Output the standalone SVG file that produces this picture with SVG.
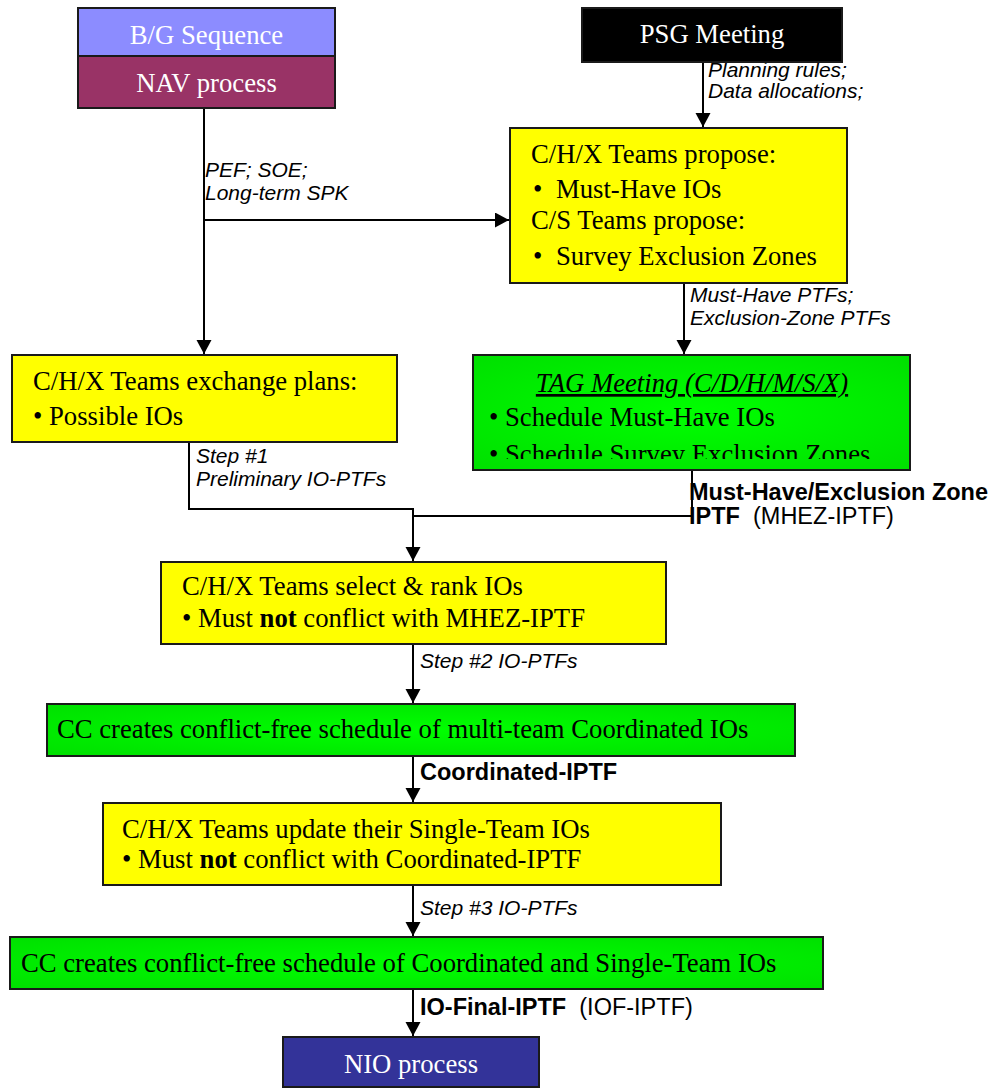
<svg xmlns="http://www.w3.org/2000/svg" width="997" height="1088" viewBox="0 0 997 1088">
<style>
.box{stroke:#1a1a1a;stroke-width:2}
.y{fill:#ffff00}
.g{fill:url(#gg)}
.t{font-family:"Liberation Serif","Times New Roman",serif;font-size:26.7px;fill:#000}
.tw{font-family:"Liberation Serif","Times New Roman",serif;font-size:26.7px;fill:#fff}
.lab{font-family:"Liberation Sans",Arial,sans-serif;font-size:21px;font-style:italic;fill:#000}
.lb{font-family:"Liberation Sans",Arial,sans-serif;font-size:23.5px;font-weight:bold;fill:#000}
.lr{font-family:"Liberation Sans",Arial,sans-serif;font-size:23.5px;fill:#000}
.c{fill:none;stroke:#000;stroke-width:2}
.a{marker-end:url(#ah)}
</style>
<defs>
<marker id="ah" markerUnits="userSpaceOnUse" markerWidth="15" markerHeight="16" refX="14" refY="7.5" orient="auto">
<path d="M0,0 L14,7.5 L0,15 Z" fill="#000"/>
</marker>
<radialGradient id="gg" cx="0.5" cy="0.5" r="0.7">
<stop offset="0" stop-color="#00ff00"/>
<stop offset="1" stop-color="#00e000"/>
</radialGradient>
<clipPath id="tagclip"><rect x="474" y="356" width="435" height="103"/></clipPath>
</defs>

<g id="connectors">
<path class="c a" d="M204,108 V354"/>
<path class="c a" d="M204,220 H509"/>
<path class="c a" d="M703,62 V127"/>
<path class="c a" d="M684,283 V354"/>
<path class="c a" d="M189,442 V509 H413 V561"/>
<path class="c" d="M692,470 V516 H413"/>
<path class="c a" d="M413,644 V703"/>
<path class="c a" d="M413,756 V802"/>
<path class="c a" d="M413,885 V936"/>
<path class="c a" d="M413,989 V1036"/>
<text class="lab" x="205" y="177">PEF; SOE;</text>
<text class="lab" x="205" y="200">Long-term SPK</text>
<text class="lab" x="708" y="77">Planning rules;</text>
<text class="lab" x="708" y="98">Data allocations;</text>
<text class="lab" x="690" y="302">Must-Have PTFs;</text>
<text class="lab" x="690" y="325">Exclusion-Zone PTFs</text>
<text class="lab" x="196" y="463">Step #1</text>
<text class="lab" x="196" y="486">Preliminary IO-PTFs</text>
<text class="lb" x="689" y="500" font-size="22.5">Must-Have/Exclusion Zone</text>
<text x="689" y="524"><tspan class="lb" font-size="22.5">IPTF</tspan><tspan class="lr" font-size="22.5" xml:space="preserve">  (MHEZ-IPTF)</tspan></text>
<text class="lab" x="420" y="668">Step #2 IO-PTFs</text>
<text class="lb" x="420" y="780">Coordinated-IPTF</text>
<text class="lab" x="420" y="915">Step #3 IO-PTFs</text>
<text x="420" y="1015"><tspan class="lb">IO-Final-IPTF</tspan><tspan class="lr" xml:space="preserve">  (IOF-IPTF)</tspan></text>
</g>

<g id="bg-sequence">
<rect class="box" x="78" y="8" width="257" height="48" fill="#8c8cff"/>
<text class="tw" x="206.5" y="44" text-anchor="middle">B/G Sequence</text>
</g>
<g id="nav-process">
<rect class="box" x="78" y="56" width="257" height="52" fill="#993366"/>
<text class="tw" x="206.5" y="92" text-anchor="middle">NAV process</text>
</g>
<g id="psg-meeting">
<rect class="box" x="582" y="8" width="260" height="54" fill="#000"/>
<text class="tw" x="712" y="43" text-anchor="middle">PSG Meeting</text>
</g>
<g id="teams-propose">
<rect class="box y" x="510" y="128" width="337" height="155"/>
<text class="t" x="531" y="163">C/H/X Teams propose:</text>
<text class="t" x="533" y="198">•</text>
<text class="t" x="556" y="198">Must-Have IOs</text>
<text class="t" x="531" y="229">C/S Teams propose:</text>
<text class="t" x="533" y="265">•</text>
<text class="t" x="556" y="265">Survey Exclusion Zones</text>
</g>
<g id="exchange-plans">
<rect class="box y" x="12" y="355" width="385" height="87"/>
<text class="t" x="33" y="390">C/H/X Teams exchange plans:</text>
<text class="t" x="33" y="425">• Possible IOs</text>
</g>
<g id="tag-meeting">
<rect class="box g" x="473" y="355" width="437" height="115"/>
<text class="t" x="692" y="392" text-anchor="middle" font-style="italic" text-decoration="underline">TAG Meeting (C/D/H/M/S/X)</text>
<text class="t" x="489" y="426">• Schedule Must-Have IOs</text>
<text class="t" x="489" y="463" clip-path="url(#tagclip)">• Schedule Survey Exclusion Zones</text>
</g>
<g id="select-rank">
<rect class="box y" x="161" y="562" width="505" height="82"/>
<text class="t" x="182" y="595">C/H/X Teams select &amp; rank IOs</text>
<text class="t" x="182" y="627">• Must <tspan font-weight="bold">not</tspan> conflict with MHEZ-IPTF</text>
</g>
<g id="cc-coordinated">
<rect class="box g" x="47" y="704" width="748" height="52"/>
<text class="t" x="57" y="738">CC creates conflict-free schedule of multi-team Coordinated IOs</text>
</g>
<g id="update-single">
<rect class="box y" x="103" y="803" width="618" height="82"/>
<text class="t" x="122" y="838">C/H/X Teams update their Single-Team IOs</text>
<text class="t" x="122" y="868">• Must <tspan font-weight="bold">not</tspan> conflict with Coordinated-IPTF</text>
</g>
<g id="cc-final">
<rect class="box g" x="10" y="937" width="813" height="52"/>
<text class="t" x="21" y="972">CC creates conflict-free schedule of Coordinated and Single-Team IOs</text>
</g>
<g id="nio-process">
<rect class="box" x="283" y="1037" width="256" height="50" fill="#333399"/>
<text class="tw" x="411" y="1073" text-anchor="middle">NIO process</text>
</g>
</svg>
